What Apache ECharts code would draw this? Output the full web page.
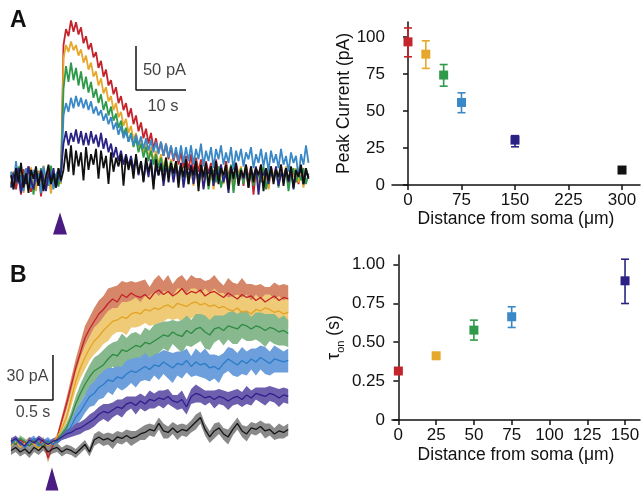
<!DOCTYPE html>
<html><head><meta charset="utf-8">
<script src="https://cdn.jsdelivr.net/npm/echarts@6/dist/echarts.min.js"></script>
<style>html,body{margin:0;padding:0;background:#fff}#c{width:644px;height:492px}</style>
</head><body><div id="c"></div>
<script>
// ---------- Panel A (right): peak current vs distance ----------
const distA = [0, 25, 50, 75, 150, 300];
const peakMean = [96.6, 88.3, 74.2, 55.7, 30.3, 10.1];
const peakLo = [86.5, 78.7, 66.7, 48.8, 25.8, 9.6];
const peakHi = [106.0, 97.3, 81.3, 62.2, 33.3, 10.6];
const distTicksA = [0, 75, 150, 225, 300];
const peakTicks = [0, 25, 50, 75, 100];

// ---------- Panel B (right): tau_on vs distance ----------
const distB = [0, 25, 50, 75, 150];
const tauMean = [0.315, 0.413, 0.578, 0.664, 0.895];
const tauLo = [0.305, 0.395, 0.514, 0.595, 0.749];
const tauHi = [0.325, 0.432, 0.642, 0.728, 1.034];
const distTicksB = [0, 25, 50, 75, 100, 125, 150];
const tauTicks = [0, 0.25, 0.5, 0.75, 1.0];

// ---------- Panel A (left): example traces, pA, sampled every 0.5 s ----------
const stepA = 0.5;
const trA_red = [
 -8, 6, -14, 3, -20, 9, -5, 12, -17, 2,
 -10, 7, -22, 4, -6, 10, -15, 1, -9, 8,
 -4, 150, 168, 160, 178, 165, 176, 162, 170, 152,
 160, 145, 152, 136, 142, 124, 132, 114, 122, 104,
 110, 94, 102, 84, 92, 76, 84, 68, 78, 60,
 70, 52, 62, 44, 55, 38, 50, 32, 44, 28,
 40, 24, 38, 20, 35, 18, 30, 14, 28, 10,
 24, 8, 26, 4, 22, 6, 20, -2, 18, 4,
 16, -4, 20, 2, 14, -6, 18, 0, 12, -8,
 16, 2, 10, -10, 14, -2, 12, -20, 8, 0,
 14, -6, 10, -12, 12, 0, 8, -8, 14, -4,
 6, -10, 10, 2, 6, -8, 12, -2, 8, 0];
const trA_yellow = [
 4, -12, 8, -6, 14, -18, 2, -9, 11, -3,
 -16, 6, -7, 13, -11, 3, -19, 7, -2, 10,
 -8, 135, 150, 142, 154, 144, 150, 138, 145, 130,
 138, 122, 130, 114, 120, 104, 112, 95, 102, 86,
 92, 76, 84, 68, 74, 58, 66, 50, 58, 42,
 50, 34, 44, 28, 38, 22, 34, 18, 30, 14,
 26, 10, 22, 6, 20, 4, 18, 0, 16, -2,
 14, -6, 12, -10, 10, -4, 14, -12, 8, -2,
 12, -14, 6, 0, 10, -8, 14, -4, 8, -16,
 6, 2, 12, -6, 8, -12, 10, 0, 6, -10,
 12, -4, 8, -14, 6, 2, 10, -8, 4, -2,
 12, -10, 6, 0, 10, -6, 4, -12, 8, -2];
const trA_green = [
 -10, 5, -3, 12, -15, 0, 8, -12, 4, -20,
 6, -4, 10, -14, 2, -8, 13, -6, 3, -11,
 5, 100, 126, 108, 130, 110, 124, 104, 120, 100,
 114, 96, 108, 90, 100, 84, 94, 76, 86, 70,
 80, 64, 72, 56, 64, 48, 56, 40, 50, 34,
 44, 28, 38, 22, 34, 18, 30, 14, 26, 10,
 22, 6, 20, 4, 18, 0, 16, -2, 14, -4,
 12, -8, 10, -2, 14, -10, 6, 0, 12, -14,
 4, 8, -6, 12, -12, 2, 10, -4, 14, -18,
 6, 0, 10, -8, 12, -4, 6, -10, 10, 2,
 -6, 12, -14, 4, 8, -2, 10, -12, 6, 0,
 8, -16, 4, 10, -6, 6, -4, 10, -8, 4];
const trA_blue = [
 6, -14, 18, -8, 2, -16, 10, -4, -12, 8,
 -6, 4, -18, 12, -2, -10, 6, -14, 2, 9,
 -6, 70, 84, 74, 90, 78, 92, 80, 90, 78,
 88, 76, 86, 72, 80, 70, 76, 64, 72, 60,
 68, 54, 62, 48, 58, 44, 52, 40, 48, 36,
 48, 36, 46, 32, 44, 30, 42, 28, 40, 26,
 40, 24, 38, 22, 36, 20, 34, 18, 36, 16,
 34, 18, 36, 14, 32, 20, 38, 12, 30, 18,
 34, 10, 32, 20, 36, 14, 28, 16, 34, 8,
 30, 18, 32, 12, 28, 20, 34, 10, 26, 16,
 32, 12, 28, 6, 30, 16, 26, 10, 32, 14,
 24, 6, 28, 16, 24, 0, 26, 14, 36, 16];
const trA_navy = [
 -12, 4, -6, 10, -18, 2, -8, 12, -4, -14,
 6, -10, 8, -2, -16, 4, -6, 10, -12, 0,
 6, 38, 52, 36, 50, 40, 54, 38, 52, 36,
 50, 36, 52, 38, 48, 34, 50, 32, 44, 28,
 38, 22, 34, 18, 30, 14, 26, 12, 24, 8,
 22, 2, 18, -4, 16, 0, 20, -8, 12, 2,
 16, -10, 10, 4, 14, -6, 12, 0, 16, -12,
 8, 2, 14, -8, 10, -2, 12, -14, 6, 4,
 12, -10, 8, 0, 14, -6, 6, -18, 10, 2,
 12, -8, 6, -2, 10, -12, 8, 0, 12, -20,
 6, 2, 10, -8, 8, -4, 12, -10, 4, 0,
 10, -6, 8, -14, 6, 2, 10, -8, 6, 0];
const trA_black = [
 2, -14, 10, -6, 16, -12, 4, -18, 8, -2,
 12, -10, 6, -16, 0, 14, -8, 4, -12, 10,
 -4, 8, 32, 6, 36, 2, 30, 12, 28, -4,
 34, 8, 26, 14, 32, -2, 30, 10, 24, -8,
 28, 6, 22, 12, 26, -10, 24, 8, 20, -2,
 26, 4, 18, -6, 22, 6, 16, -14, 20, 2,
 14, -4, 22, -6, 16, 4, 18, -12, 14, 0,
 20, -8, 12, 2, 18, -16, 14, 0, 16, -10,
 12, -4, 18, -8, 10, 2, 14, -14, 12, -2,
 16, -10, 8, 0, 14, -12, 12, -6, 10, 2,
 14, -16, 10, -4, 12, -8, 8, 0, 14, -10,
 10, -4, 12, -12, 8, 0, 14, -8, 10, -2];

// ---------- Panel B (left): mean traces ± SEM, pA, sampled every 0.06 s ----------
const stepB = 0.06;
const trB_red = [1, -1, 2, 0, -2, 1, -1, 2, -10, -2,
 4, 15, 26, 38, 50, 60, 70, 76, 81, 86,
 89, 93, 96, 94, 99, 97, 100, 98, 97, 99,
 96, 100, 102, 99, 101, 98, 100, 103, 99, 101,
 100, 102, 98, 100, 101, 99, 97, 100, 98, 96,
 99, 97, 98, 95, 97, 94, 96, 98, 95, 97, 96];
const trB_yellow = [-2, 1, -3, 0, 2, -1, -4, 1, -2, 0,
 4, 10, 17, 29, 41, 50, 57, 63, 68, 71,
 75, 78, 81, 82, 84, 83, 86, 87, 86, 89,
 88, 90, 89, 91, 92, 90, 93, 92, 91, 93,
 94, 92, 93, 91, 92, 90, 91, 89, 88, 90,
 87, 88, 86, 89, 88, 90, 89, 87, 88, 86, 87];
const trB_green = [2, -1, 3, 1, -2, 2, 0, -3, 1, -1,
 2, 6, 10, 17, 26, 33, 39, 44, 48, 50,
 52, 56, 59, 58, 62, 61, 63, 65, 64, 67,
 66, 68, 70, 72, 71, 74, 72, 71, 75, 73,
 76, 77, 74, 72, 76, 77, 75, 78, 77, 76,
 79, 78, 76, 78, 77, 75, 77, 76, 74, 75, 73];
const trB_blue = [-1, 2, 0, -3, 1, 3, -2, 0, 2, -1,
 1, 4, 6, 11, 17, 21, 26, 31, 33, 37,
 39, 42, 41, 44, 43, 46, 48, 47, 49, 51,
 49, 52, 51, 54, 52, 50, 53, 52, 55, 51,
 54, 52, 53, 50, 51, 49, 53, 56, 54, 52,
 55, 53, 56, 54, 57, 55, 53, 56, 55, 54, 55];
const trB_navy = [1, 3, 0, -2, 2, 0, 3, 1, -1, 1,
 2, 4, 6, 7, 9, 10, 12, 14, 16, 19,
 21, 20, 22, 24, 23, 26, 27, 25, 28, 26,
 29, 28, 30, 29, 31, 28, 27, 29, 24, 31,
 33, 32, 30, 31, 29, 31, 30, 28, 30, 31,
 29, 32, 30, 33, 32, 31, 33, 32, 30, 32, 31];
const trB_black = [-5, -3, -6, -4, -7, -3, -5, -2, -6, -4,
 -3, -6, -4, -5, -7, -4, -1, -6, 2, 4,
 2, 3, 1, 4, 3, 5, 3, 4, 6, 7,
 9, 8, 13, 8, 7, 10, 7, 9, 8, 11,
 14, 17, 9, 4, 8, 10, 6, 4, 9, 13,
 8, 6, 10, 9, 11, 8, 9, 6, 8, 7, 9];
const errB_red = [2, 2, 2, 2, 2, 2, 2, 2, 3, 2,
 2, 3, 4, 5, 6, 7, 8, 8, 9, 9,
 9, 10, 8, 11, 9, 10, 8, 9, 11, 10,
 8, 9, 10, 9, 11, 8, 10, 9, 9, 11,
 10, 8, 10, 9, 11, 9, 8, 10, 9, 10,
 11, 9, 8, 10, 9, 10, 8, 9, 10, 9, 9];
const errB_yellow = [2, 2, 2, 2, 2, 2, 2, 2, 2, 2,
 2, 3, 4, 5, 6, 7, 8, 8, 9, 9,
 9, 10, 9, 8, 10, 11, 9, 10, 8, 9,
 10, 11, 9, 10, 9, 8, 10, 11, 9, 10,
 9, 8, 10, 9, 11, 10, 9, 8, 10, 9,
 10, 11, 9, 10, 8, 9, 10, 9, 10, 9, 10];
const errB_green = [2, 2, 2, 2, 2, 2, 2, 2, 2, 2,
 2, 2, 3, 4, 5, 6, 7, 8, 9, 9,
 10, 9, 8, 10, 11, 9, 10, 9, 8, 10,
 9, 11, 10, 9, 10, 8, 9, 11, 10, 9,
 10, 9, 11, 10, 9, 8, 10, 9, 11, 10,
 9, 10, 8, 9, 10, 11, 9, 10, 9, 10, 9];
const errB_blue = [2, 2, 2, 2, 2, 2, 2, 2, 2, 2,
 2, 2, 3, 4, 5, 6, 6, 7, 8, 8,
 9, 8, 9, 7, 8, 9, 8, 10, 8, 9,
 8, 7, 9, 8, 9, 10, 8, 9, 8, 7,
 9, 8, 10, 9, 8, 9, 7, 8, 9, 8,
 9, 8, 7, 9, 8, 9, 8, 9, 8, 7, 8];
const errB_navy = [2, 2, 2, 2, 2, 2, 2, 2, 2, 2,
 2, 2, 3, 3, 4, 4, 4, 5, 5, 5,
 5, 6, 5, 5, 6, 5, 4, 6, 5, 5,
 6, 5, 5, 6, 5, 4, 5, 6, 5, 5,
 6, 5, 5, 4, 6, 5, 5, 6, 5, 5,
 5, 6, 5, 4, 5, 6, 5, 5, 6, 5, 5];
const errB_black = [3, 3, 3, 3, 3, 3, 3, 3, 3, 3,
 3, 3, 3, 3, 3, 3, 3, 3, 4, 4,
 4, 4, 5, 4, 4, 4, 5, 4, 4, 5,
 4, 4, 4, 5, 4, 4, 5, 4, 4, 4,
 5, 4, 4, 4, 5, 4, 4, 5, 4, 4,
 4, 5, 4, 4, 4, 5, 4, 4, 5, 4, 4];

// scale bars (data units) and stimulus times
const scaleA = {t0: 25, y0: 98.9, dy: 50, dt: 10, yLabel: '50 pA', tLabel: '10 s'};
const scaleB = {t0: 0.545, y0: 28.7, dy: 30, dt: 0.5, yLabel: '30 pA', tLabel: '0.5 s'};
const stimA = 9.8, stimB = 0.532;

// ---------- styling ----------
const FONT = 'Liberation Sans, Arial, Helvetica, sans-serif';
const colA = ['#c4242c', '#e5a82c', '#2f9a49', '#3b88c6', '#2b2383', '#111111'];
const lineB = ['#c42228', '#e3a324', '#2e8b43', '#2b7bc8', '#2e1f8c', '#141414'];
const bandB = ['#d6876a', '#efcb77', '#88b88e', '#6c9fdb', '#6d5fae', '#8a8a8a'];
const arrowCol = '#4a1b82';

const tracesA = [trA_red, trA_yellow, trA_green, trA_blue, trA_navy, trA_black];
const tracesB = [trB_red, trB_yellow, trB_green, trB_blue, trB_navy, trB_black];
const errsB = [errB_red, errB_yellow, errB_green, errB_blue, errB_navy, errB_black];
const timeB = trB_red.map((_, i) => +(i * stepB).toFixed(3));

const chart = echarts.init(document.getElementById('c'), null, {renderer: 'canvas'});

function errRender(colors) {
  return function (params, api) {
    const x = api.value(0), lo = api.value(1), hi = api.value(2);
    const a = api.coord([x, lo]), b = api.coord([x, hi]);
    const hw = 4;
    const st = {stroke: colors[params.dataIndex], lineWidth: 1.6};
    return {type: 'group', children: [
      {type: 'line', shape: {x1: a[0], y1: a[1], x2: b[0], y2: b[1]}, style: st},
      {type: 'line', shape: {x1: a[0] - hw, y1: a[1], x2: a[0] + hw, y2: a[1]}, style: st},
      {type: 'line', shape: {x1: b[0] - hw, y1: b[1], x2: b[0] + hw, y2: b[1]}, style: st}
    ]};
  };
}
function bandRender(tt, mean, err, color) {
  return function (params, api) {
    const up = [], dn = [];
    for (let i = 0; i < tt.length; i++) {
      up.push(api.coord([tt[i], mean[i] + err[i]]));
      dn.push(api.coord([tt[i], mean[i] - err[i]]));
    }
    return {type: 'polygon', shape: {points: up.concat(dn.reverse())}, style: {fill: color}};
  };
}

const axisCommon = {
  axisLine: {show: true, lineStyle: {color: '#111', width: 1.5}},
  axisTick: {show: true, length: 5, lineStyle: {color: '#111', width: 1.5}},
  splitLine: {show: false},
  axisLabel: {color: '#111', fontSize: 17, fontFamily: FONT, margin: 7},
  nameTextStyle: {color: '#111', fontSize: 17.5, fontFamily: FONT}
};

const series = [];
// Panel A traces
tracesA.forEach((arr, k) => {
  series.push({type: 'line', xAxisIndex: 0, yAxisIndex: 0, showSymbol: false, symbol: 'none',
    data: arr.map((v, i) => [i * stepA, v]), lineStyle: {color: colA[k], width: 1.8},
    silent: true, z: 2 + k});
});
series.push({type: 'line', xAxisIndex: 0, yAxisIndex: 0, symbol: 'none', z: 20,
  data: [[scaleA.t0, scaleA.y0 + scaleA.dy], [scaleA.t0, scaleA.y0], [scaleA.t0 + scaleA.dt, scaleA.y0]],
  lineStyle: {color: '#111', width: 1.5}});
series.push({type: 'scatter', xAxisIndex: 0, yAxisIndex: 0, symbolSize: 0, z: 20,
  data: [{name: scaleA.yLabel, value: [scaleA.t0 + 5.7, scaleA.y0 + 22.7]},
         {name: scaleA.tLabel, value: [scaleA.t0 + 5.4, scaleA.y0 - 18.2]}],
  label: {show: true, position: 'inside', formatter: p => p.name, color: '#111', fontSize: 16.5, fontFamily: FONT}});
series.push({type: 'scatter', xAxisIndex: 0, yAxisIndex: 0, symbol: 'triangle', symbolSize: [14, 22],
  itemStyle: {color: arrowCol, opacity: 1}, data: [[stimA, -52.8]], z: 20});

// Panel A right
series.push({type: 'custom', xAxisIndex: 1, yAxisIndex: 1, renderItem: errRender(colA),
  encode: {x: 0, y: [1, 2]}, data: distA.map((d, i) => [d, peakLo[i], peakHi[i]]), z: 3});
series.push({type: 'scatter', xAxisIndex: 1, yAxisIndex: 1, symbol: 'rect', symbolSize: 9, z: 4,
  data: distA.map((d, i) => ({value: [d, peakMean[i]], itemStyle: {color: colA[i], opacity: 1}}))});

// Panel B traces: bands then lines
tracesB.forEach((arr, k) => {
  series.push({type: 'custom', xAxisIndex: 2, yAxisIndex: 2, renderItem: bandRender(timeB, arr, errsB[k], bandB[k]),
    data: [[timeB[0], arr[0]]], z: 2 + k, silent: true});
});
tracesB.forEach((arr, k) => {
  series.push({type: 'line', xAxisIndex: 2, yAxisIndex: 2, symbol: 'none', showSymbol: false,
    data: arr.map((v, i) => [timeB[i], v]), lineStyle: {color: lineB[k], width: 1.3}, z: 10 + k, silent: true});
});
series.push({type: 'line', xAxisIndex: 2, yAxisIndex: 2, symbol: 'none', z: 20,
  data: [[scaleB.t0 - scaleB.dt, scaleB.y0], [scaleB.t0, scaleB.y0], [scaleB.t0, scaleB.y0 + scaleB.dy]],
  lineStyle: {color: '#111', width: 1.5}});
series.push({type: 'scatter', xAxisIndex: 2, yAxisIndex: 2, symbolSize: 0, z: 20,
  data: [{name: scaleB.yLabel, value: [0.214, 44]}, {name: scaleB.tLabel, value: [0.286, 20]}],
  label: {show: true, position: 'inside', formatter: p => p.name, color: '#111', fontSize: 16, fontFamily: FONT}});
series.push({type: 'scatter', xAxisIndex: 2, yAxisIndex: 2, symbol: 'triangle', symbolSize: [13, 23],
  itemStyle: {color: arrowCol, opacity: 1}, data: [[stimB, -24]], z: 20});

// Panel B right
series.push({type: 'custom', xAxisIndex: 3, yAxisIndex: 3, renderItem: errRender(colA),
  encode: {x: 0, y: [1, 2]}, data: distB.map((d, i) => [d, tauLo[i], tauHi[i]]), z: 3});
series.push({type: 'scatter', xAxisIndex: 3, yAxisIndex: 3, symbol: 'rect', symbolSize: 9, z: 4,
  data: distB.map((d, i) => ({value: [d, tauMean[i]], itemStyle: {color: colA[i], opacity: 1}}))});

const option = {
  animation: false,
  backgroundColor: '#fff',
  textStyle: {fontFamily: FONT},
  grid: [
    {left: 11, top: 18, width: 298, height: 222},
    {left: 392, top: 22, width: 248, height: 163},
    {left: 11, top: 260, width: 277, height: 232},
    {left: 392, top: 255, width: 248, height: 165}
  ],
  xAxis: [
    {gridIndex: 0, type: 'value', min: 0, max: 59.6, show: false},
    Object.assign({}, axisCommon, {gridIndex: 1, type: 'value', min: -22.4, max: 325.2,
      name: 'Distance from soma (μm)', nameLocation: 'middle', nameGap: 24,
      axisTick: Object.assign({}, axisCommon.axisTick, {customValues: distTicksA}),
      axisLabel: Object.assign({}, axisCommon.axisLabel, {customValues: distTicksA})}),
    {gridIndex: 2, type: 'value', min: 0, max: 3.597, show: false},
    Object.assign({}, axisCommon, {gridIndex: 3, type: 'value', min: -4.2, max: 159.9,
      name: 'Distance from soma (μm)', nameLocation: 'middle', nameGap: 26,
      axisTick: Object.assign({}, axisCommon.axisTick, {customValues: distTicksB}),
      axisLabel: Object.assign({}, axisCommon.axisLabel, {customValues: distTicksB})})
  ],
  yAxis: [
    {gridIndex: 0, type: 'value', min: -71.6, max: 180.7, show: false},
    Object.assign({}, axisCommon, {gridIndex: 1, type: 'value', min: 0, max: 110,
      name: 'Peak Current (pA)', nameLocation: 'middle', nameGap: 38,
      axisTick: Object.assign({}, axisCommon.axisTick, {customValues: peakTicks}),
      axisLabel: Object.assign({}, axisCommon.axisLabel, {customValues: peakTicks})}),
    {gridIndex: 2, type: 'value', min: -32.7, max: 122, show: false},
    Object.assign({}, axisCommon, {gridIndex: 3, type: 'value', min: 0, max: 1.061,
      name: '{t|τ}{s|on}{t| (s)}', nameLocation: 'middle', nameGap: 46,
      nameTextStyle: {color: '#111', fontFamily: FONT, rich: {
        t: {fontSize: 17.5, fontFamily: FONT, color: '#111', lineHeight: 24},
        s: {fontSize: 11, fontFamily: FONT, color: '#111', verticalAlign: 'bottom', lineHeight: 14}}},
      axisTick: Object.assign({}, axisCommon.axisTick, {customValues: tauTicks}),
      axisLabel: Object.assign({}, axisCommon.axisLabel, {customValues: tauTicks,
        formatter: v => (v === 0 ? '0' : v.toFixed(2))})})
  ],
  graphic: [
    {type: 'text', left: 10, top: 9, style: {text: 'A', font: 'bold 23px ' + FONT, fill: '#111'}},
    {type: 'text', left: 10, top: 264, style: {text: 'B', font: 'bold 23px ' + FONT, fill: '#111'}}
  ],
  series: series
};
chart.setOption(option);
</script></body></html>
